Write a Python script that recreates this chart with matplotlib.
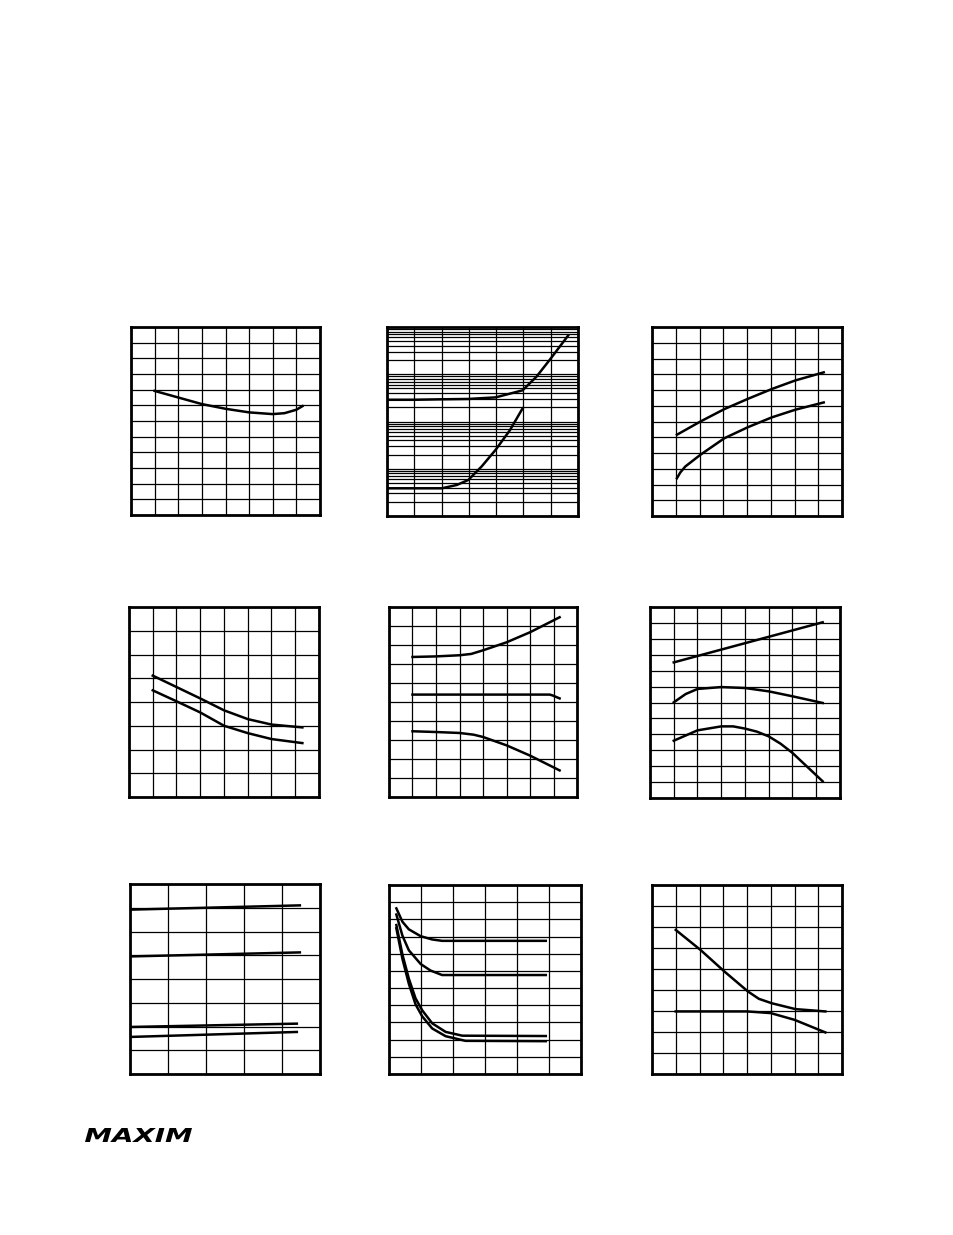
import matplotlib
matplotlib.use("Agg")
import matplotlib.pyplot as plt
import numpy as np
from matplotlib.textpath import TextPath
from matplotlib.patches import PathPatch
from matplotlib.font_manager import FontProperties
from matplotlib.transforms import Affine2D

W, H = 954, 1235

# panel 1
p1_x = [1, 2, 3, 4, 5, 6, 6.5, 7, 7.26]
p1_y = [7.92, 7.50, 7.08, 6.78, 6.55, 6.44, 6.50, 6.72, 6.95]

# panel 2 (log y)
p2a_x = [0, 0.97, 2.0, 2.98, 3.98, 4.97, 5.48, 5.97, 6.64]
p2a_y = [288, 288, 295, 300, 324, 457, 891, 2042, 6607]
p2b_x = [0, 2.01, 2.56, 2.98, 3.47, 3.98, 4.51, 4.97]
p2b_y = [3.86, 3.86, 4.54, 5.79, 11.2, 25.1, 66.1, 190]

# panel 3
p3a_x = [1.05, 2.04, 3.05, 4.04, 5.04, 6.04, 7.23]
p3a_y = [5.16, 6.0, 6.79, 7.44, 8.06, 8.61, 9.12]
p3b_x = [1.05, 1.19, 1.40, 2.04, 3.05, 4.04, 5.04, 6.04, 7.23]
p3b_y = [2.40, 2.76, 3.14, 3.89, 4.94, 5.64, 6.26, 6.75, 7.21]

# panel 4
p4_x = [1, 2, 3, 4, 5, 6, 7.3]
p4a_y = [5.11, 4.63, 4.15, 3.65, 3.28, 3.05, 2.93]
p4b_y = [4.49, 4.03, 3.56, 3.0, 2.69, 2.44, 2.27]

# panel 5
p5a_x = [1, 2, 3, 3.5, 4, 5, 6, 7.26]
p5a_y = [7.37, 7.40, 7.46, 7.53, 7.72, 8.14, 8.67, 9.46]
p5b_x = [1, 6.84, 6.95, 7.26]
p5b_y = [5.39, 5.39, 5.35, 5.19]
p5c_x = [1, 2, 3, 3.6, 4, 5, 6, 7.26]
p5c_y = [3.46, 3.42, 3.37, 3.28, 3.16, 2.72, 2.18, 1.40]

# panel 6
p6a_x = [1, 7.27]
p6a_y = [8.52, 11.04]
p6b_x = [1, 1.5, 2, 3, 4, 5, 6, 7.27]
p6b_y = [6.01, 6.53, 6.85, 6.97, 6.91, 6.70, 6.39, 5.97]
p6c_x = [1, 2, 3, 3.5, 4, 4.5, 5, 5.5, 6, 7.27]
p6c_y = [3.60, 4.25, 4.50, 4.50, 4.36, 4.17, 3.87, 3.41, 2.83, 1.05]

# panel 7
p7_x1 = [0, 4.47]
p7_x2 = [0, 4.39]
p7a_y = [6.92, 7.10]
p7b_y = [4.95, 5.12]
p7c_y = [1.98, 2.12]
p7d_y = [1.56, 1.77]

# panel 8
p8a_x = [0.23, 0.42, 0.62, 0.99, 1.35, 1.66, 4.90]
p8a_y = [9.64, 8.86, 8.42, 8.02, 7.83, 7.75, 7.75]
p8b_x = [0.23, 0.42, 0.62, 0.99, 1.30, 1.66, 4.90]
p8b_y = [9.28, 8.05, 7.20, 6.40, 6.02, 5.76, 5.76]
p8c_x = [0.23, 0.42, 0.62, 0.83, 1.04, 1.35, 1.77, 2.29, 4.90]
p8c_y = [8.67, 6.95, 5.55, 4.40, 3.70, 2.95, 2.45, 2.23, 2.21]
p8d_x = [0.23, 0.42, 0.62, 0.83, 1.04, 1.35, 1.77, 2.39, 4.90]
p8d_y = [8.48, 6.70, 5.25, 4.05, 3.35, 2.65, 2.20, 1.93, 1.91]

# panel 9
p9a_x = [1, 2.04, 3.05, 4.04, 4.5, 5.04, 6.04, 7.3]
p9a_y = [6.86, 5.91, 4.88, 3.93, 3.58, 3.37, 3.09, 2.98]
p9b_x = [1, 3, 4, 5, 6, 7.3]
p9b_y = [2.98, 2.98, 2.98, 2.90, 2.58, 1.98]

fig = plt.figure(figsize=(W / 100, H / 100), dpi=100)


def panel(l, t, r, b, ncol, nrow, logy=False):
    ax = fig.add_axes([l / W, 1 - b / H, (r - l) / W, (b - t) / H])
    ax.set_xlim(0, ncol)
    ax.set_xticks(np.arange(0, ncol + 1))
    if logy:
        ax.set_yscale("log")
        ax.set_ylim(1, 10 ** nrow)
        ax.grid(True, which="both", color="black", lw=0.9)
    else:
        ax.set_ylim(0, nrow)
        ax.set_yticks(np.arange(0, nrow + 1))
        ax.grid(True, color="black", lw=0.9)
    ax.tick_params(which="both", length=0, labelleft=False, labelbottom=False)
    for s in ax.spines.values():
        s.set_linewidth(2)
    ax.set_axisbelow(True)
    return ax


kw = dict(color="black", lw=1.8)

ax = panel(131, 327, 320, 515, 8, 12)
ax.plot(p1_x, p1_y, **kw)

ax = panel(387, 327, 578, 516, 7, 4, logy=True)
ax.plot(p2a_x, p2a_y, **kw)
ax.plot(p2b_x, p2b_y, **kw)

ax = panel(652, 327, 842, 516, 8, 12)
ax.plot(p3a_x, p3a_y, **kw)
ax.plot(p3b_x, p3b_y, **kw)

ax = panel(129, 607, 319, 797, 8, 8)
ax.plot(p4_x, p4a_y, **kw)
ax.plot(p4_x, p4b_y, **kw)

ax = panel(389, 607, 577, 797, 8, 10)
ax.plot(p5a_x, p5a_y, **kw)
ax.plot(p5b_x, p5b_y, **kw)
ax.plot(p5c_x, p5c_y, **kw)

ax = panel(650, 607, 840, 798, 8, 12)
ax.plot(p6a_x, p6a_y, **kw)
ax.plot(p6b_x, p6b_y, **kw)
ax.plot(p6c_x, p6c_y, **kw)

ax = panel(130, 884, 320, 1074, 5, 8)
ax.plot(p7_x1, p7a_y, **kw)
ax.plot(p7_x1, p7b_y, **kw)
ax.plot(p7_x2, p7c_y, **kw)
ax.plot(p7_x2, p7d_y, **kw)

ax = panel(389, 885, 581, 1074, 6, 11)
ax.plot(p8a_x, p8a_y, **kw)
ax.plot(p8b_x, p8b_y, **kw)
ax.plot(p8c_x, p8c_y, **kw)
ax.plot(p8d_x, p8d_y, **kw)

ax = panel(652, 885, 842, 1074, 8, 9)
ax.plot(p9a_x, p9a_y, **kw)
ax.plot(p9b_x, p9b_y, **kw)

# logo, stretched wide like the original mark
fp = FontProperties(family="DejaVu Sans", weight="heavy", style="italic")
tp = TextPath((0, 0), "MAXIM", size=20, prop=fp)
ext = tp.get_extents()
sx = 107 / ext.width
sy = 14 / ext.height
tr = Affine2D().translate(-ext.x0, -ext.y0).scale(sx, sy).translate(85, H - 1142)
fig.patches.append(PathPatch(tr.transform_path(tp), color="black", lw=0,
                             transform=None, figure=fig))

fig.savefig("out.png", dpi=100)
